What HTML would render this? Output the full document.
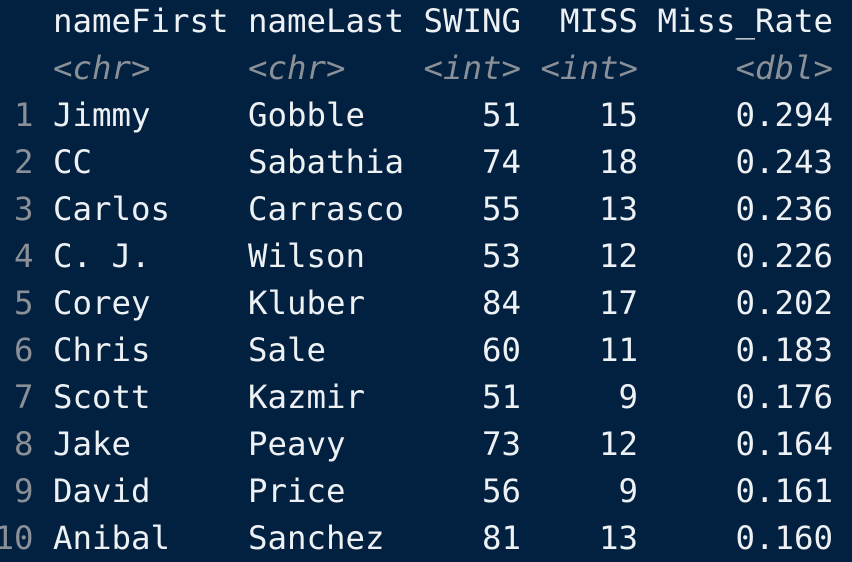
<!DOCTYPE html>
<html><head><meta charset="utf-8"><style>
html,body{margin:0;padding:0;width:852px;height:556px;overflow:hidden;background:#022141;}
pre{position:absolute;left:-5.5px;top:-2px;margin:0;font-family:"DejaVu Sans Mono","Liberation Mono",monospace;font-size:32.4px;line-height:47px;color:#eef1f4;white-space:pre;}
.g{color:#8b9097;}
.t{color:#8b9097;font-style:italic;}
</style></head><body>
<pre><span>   nameFirst nameLast SWING  MISS Miss_Rate</span>
<span class="t">   &lt;chr&gt;     &lt;chr&gt;    &lt;int&gt; &lt;int&gt;     &lt;dbl&gt;</span>
<span class="g"> 1</span> Jimmy     Gobble      51    15     0.294
<span class="g"> 2</span> CC        Sabathia    74    18     0.243
<span class="g"> 3</span> Carlos    Carrasco    55    13     0.236
<span class="g"> 4</span> C. J.     Wilson      53    12     0.226
<span class="g"> 5</span> Corey     Kluber      84    17     0.202
<span class="g"> 6</span> Chris     Sale        60    11     0.183
<span class="g"> 7</span> Scott     Kazmir      51     9     0.176
<span class="g"> 8</span> Jake      Peavy       73    12     0.164
<span class="g"> 9</span> David     Price       56     9     0.161
<span class="g">10</span> Anibal    Sanchez     81    13     0.160</pre>
</body></html>
